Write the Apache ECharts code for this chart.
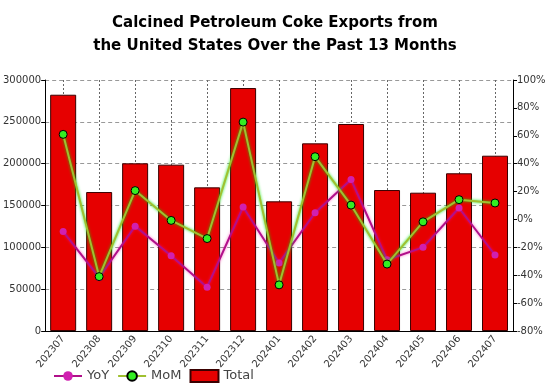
<!DOCTYPE html>
<html>
<head>
<meta charset="utf-8">
<script src="https://cdn.jsdelivr.net/npm/echarts@6/dist/echarts.min.js"></script>
<style>html,body{margin:0;padding:0;background:#fff}#c{width:550px;height:387px}</style>
</head>
<body>
<div id="c"></div>
<script>
var categories = ['202307','202308','202309','202310','202311','202312','202401','202402','202403','202404','202405','202406','202407'];
var totalValues = [282400, 166100, 200400, 198800, 171700, 290400, 155000, 224300, 247400, 168500, 165300, 188500, 209500];
var momValues = [61, -41, 20.7, -0.7, -13.7, 69.8, -46.9, 45, 10.3, -32, -1.7, 14.2, 11.8];
var yoyValues = [-8.7, -41.6, -4.8, -26, -48.6, 8.9, -31.2, 4.8, 28.6, -28.9, -20, 8.2, -25.5];
var titleText = 'Calcined Petroleum Coke Exports from\nthe United States Over the Past 13 Months';

var chart = echarts.init(document.getElementById('c'));
chart.setOption({
  animation: false,
  title: {
    text: titleText, left: 'center', top: 7,
    textStyle: {fontFamily: 'DejaVu Sans', fontWeight: 'bold', fontSize: 15, color: '#000', lineHeight: 23}
  },
  legend: {
    left: 48, bottom: -1, itemGap: 8, itemWidth: 28, itemHeight: 12,
    textStyle: {fontFamily: 'DejaVu Sans', fontSize: 13, color: '#444'},
    data: ['YoY', 'MoM', {name: 'Total', icon: 'rect'}]
  },
  grid: {left: 43, right: 37, top: 80, bottom: 56},
  xAxis: {
    type: 'category', data: categories, boundaryGap: true,
    axisLine: {lineStyle: {color: '#000'}},
    axisTick: {show: false},
    axisLabel: {rotate: 50, fontSize: 10, color: '#333', fontFamily: 'DejaVu Sans', margin: 6},
    splitLine: {show: true, alignWithLabel: true, lineStyle: {color: '#666', type: [2, 2]}}
  },
  yAxis: [{
    type: 'value', min: 0, max: 300000, interval: 50000,
    axisLine: {show: true, lineStyle: {color: '#000'}},
    axisTick: {show: true, length: 4, lineStyle: {color: '#000'}},
    axisLabel: {formatter: function (v) { return String(v); }, fontSize: 10, color: '#333', fontFamily: 'DejaVu Sans', margin: 4},
    splitLine: {show: true, lineStyle: {color: '#999', type: [4, 3]}}
  }, {
    type: 'value', min: -80, max: 100, interval: 20,
    axisLine: {show: true, lineStyle: {color: '#000'}},
    axisTick: {show: true, length: 4, lineStyle: {color: '#000'}},
    axisLabel: {formatter: '{value}%', fontSize: 10, color: '#333', fontFamily: 'DejaVu Sans', margin: 4},
    splitLine: {show: false}
  }],
  series: [{
    name: 'Total', type: 'bar', data: totalValues, barWidth: 26, yAxisIndex: 0,
    itemStyle: {color: '#e60000', borderColor: '#3a0000', borderWidth: 1}
  }, {
    name: 'YoY', type: 'line', data: yoyValues, yAxisIndex: 1, z: 3,
    symbol: 'circle', symbolSize: 7,
    lineStyle: {color: '#b0108a', width: 2, shadowColor: 'rgba(255,0,160,0.6)', shadowBlur: 3},
    itemStyle: {color: '#d020b0', borderColor: '#d020b0', borderWidth: 0}
  }, {
    name: 'MoM', type: 'line', data: momValues, yAxisIndex: 1, z: 4,
    symbol: 'circle', symbolSize: 8,
    lineStyle: {color: '#a0c030', width: 2, shadowColor: 'rgba(0,230,0,0.9)', shadowBlur: 3},
    itemStyle: {color: '#33ee22', borderColor: '#000', borderWidth: 1}
  }]
});
</script>
</body>
</html>
